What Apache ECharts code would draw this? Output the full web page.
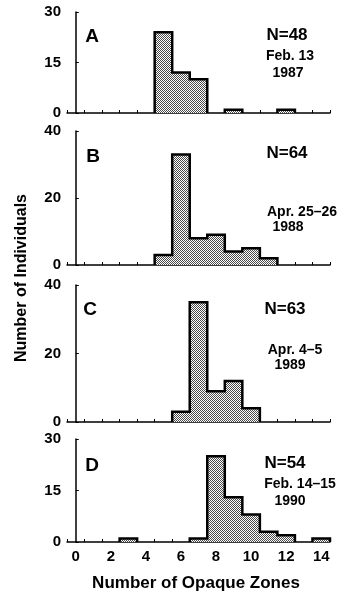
<!DOCTYPE html>
<html>
<head>
<meta charset="utf-8">
<script src="https://cdn.jsdelivr.net/npm/echarts@6/dist/echarts.min.js"></script>
<style>
  html, body {margin: 0; background: #fff;}
  #chart {width: 342px; height: 594px;}
</style>
</head>
<body>
<div id="chart"></div>
<script>
// number of opaque zones (histogram bins)
const bins = [0, 1, 2, 3, 4, 5, 6, 7, 8, 9, 10, 11, 12, 13, 14];
const countsA = [0, 0, 0, 0, 0, 24, 12, 10, 0, 1, 0, 0, 1, 0, 0];
const countsB = [0, 0, 0, 0, 0, 3, 33, 8, 9, 4, 5, 2, 0, 0, 0];
const countsC = [0, 0, 0, 0, 0, 0, 3, 35, 9, 12, 4, 0, 0, 0, 0];
const countsD = [0, 0, 0, 1, 0, 0, 0, 1, 25, 13, 8, 3, 2, 0, 1];
const xTickLabels = [0, 2, 4, 6, 8, 10, 12, 14];
const yMaxes = [30, 40, 40, 30];
const ySteps = [15, 20, 20, 15];
const panelLetters = ['A', 'B', 'C', 'D'];
const panelN = ['N=48', 'N=64', 'N=63', 'N=54'];
const panelDates = ['Feb. 13', 'Apr. 25–26', 'Apr. 4–5', 'Feb. 14–15'];
const panelYears = ['1987', '1988', '1989', '1990'];

const counts = [countsA, countsB, countsC, countsD];
const FONT = '"Liberation Sans", Arial, Helvetica, sans-serif';

// stipple fill
const pc = document.createElement('canvas');
pc.width = 2; pc.height = 2;
const g = pc.getContext('2d');
g.fillStyle = '#fff'; g.fillRect(0, 0, 2, 2);
g.fillStyle = '#4a4a4a'; g.fillRect(0, 0, 1, 1); g.fillRect(1, 1, 1, 1);
const stipple = {image: pc, repeat: 'repeat'};

const gridBoxes = [
  {top: 12, height: 101},
  {top: 131, height: 134},
  {top: 285, height: 137},
  {top: 439, height: 103},
];

const edges = bins.map(b => b - 0.5).concat([bins[bins.length - 1] + 0.5]);

// outline runs of non-empty bins
const runs = (c) => {
  const out = [];
  let i = 0;
  while (i < c.length) {
    if (c[i] > 0) {
      const s = i;
      while (i < c.length && c[i] > 0) i++;
      const e = i - 1;
      const pts = [[bins[s] - 0.5, 0]];
      for (let k = s; k <= e; k++) pts.push([bins[k] - 0.5, c[k]]);
      pts.push([bins[e] + 0.5, c[e]]);
      pts.push([bins[e] + 0.5, 0]);
      out.push(pts);
    } else i++;
  }
  return out;
};

const grid = [], xAxis = [], yAxis = [], series = [], graphic = [];
counts.forEach((c, p) => {
  grid.push({left: 67, width: 263, top: gridBoxes[p].top, height: gridBoxes[p].height, outerBoundsMode: 'none', containLabel: false});
  xAxis.push({
    type: 'value', gridIndex: p, min: -0.5, max: 14.5,
    splitLine: {show: false},
    axisLine: {show: true, onZero: false, lineStyle: {color: '#000', width: 1.5}},
    axisTick: {show: true, inside: true, length: 3, customValues: edges, lineStyle: {color: '#000', width: 1}},
    axisLabel: {
      show: p === 3, customValues: xTickLabels, margin: 7,
      color: '#000', fontSize: 15, fontWeight: 'bold', fontFamily: FONT
    }
  });
  yAxis.push({
    type: 'value', gridIndex: p, min: 0, max: yMaxes[p], interval: ySteps[p],
    splitLine: {show: false},
    axisLine: {show: true, lineStyle: {color: '#000', width: 1.5}},
    axisTick: {show: true, inside: true, length: 3, lineStyle: {color: '#000', width: 1}},
    axisLabel: {margin: 6, color: '#000', fontSize: 15, fontWeight: 'bold', fontFamily: FONT, padding: [0, 0, 3, 0]}
  });
  series.push({
    type: 'bar', xAxisIndex: p, yAxisIndex: p,
    data: bins.map((b, i) => [b, c[i]]),
    barWidth: 17.8,
    itemStyle: {color: stipple, borderWidth: 0},
    silent: true
  });
  runs(c).forEach(pts => {
    series.push({
      type: 'line', xAxisIndex: p, yAxisIndex: p,
      data: pts, step: 'end', symbol: 'none', clip: false,
      lineStyle: {color: '#000', width: 2.5, join: 'miter'},
      silent: true
    });
  });
});

const txt = (x, y, text, size, weight, rotation) => ({
  type: 'text', x, y, rotation: rotation || 0,
  style: {text, fill: '#000', font: `${weight} ${size}px ${FONT}`, align: 'center', verticalAlign: 'middle'}
});
const letterPos = [[92, 37], [93, 157], [90, 310], [92, 466]];
const nPos = [[287, 35], [287, 153], [285, 309], [285, 463]];
const datePos = [[290, 56], [302, 212], [295, 350], [300, 484]];
const yearPos = [[288, 73], [288, 227], [290, 365], [290, 501]];
panelLetters.forEach((l, p) => {
  graphic.push(txt(letterPos[p][0], letterPos[p][1], l, 19, 'bold'));
  graphic.push(txt(nPos[p][0], nPos[p][1], panelN[p], 17, 'bold'));
  graphic.push(txt(datePos[p][0], datePos[p][1], panelDates[p], 14, 'bold'));
  graphic.push(txt(yearPos[p][0], yearPos[p][1], panelYears[p], 14, 'bold'));
});
graphic.push(txt(22, 278, 'Number of Individuals', 16, 'bold', Math.PI / 2));
graphic.push(txt(196, 583, 'Number of Opaque Zones', 17, 'bold'));

const chart = echarts.init(document.getElementById('chart'), null, {renderer: 'canvas'});
chart.setOption({
  backgroundColor: '#fff',
  animation: false,
  grid, xAxis, yAxis, series, graphic
});
</script>
</body>
</html>
